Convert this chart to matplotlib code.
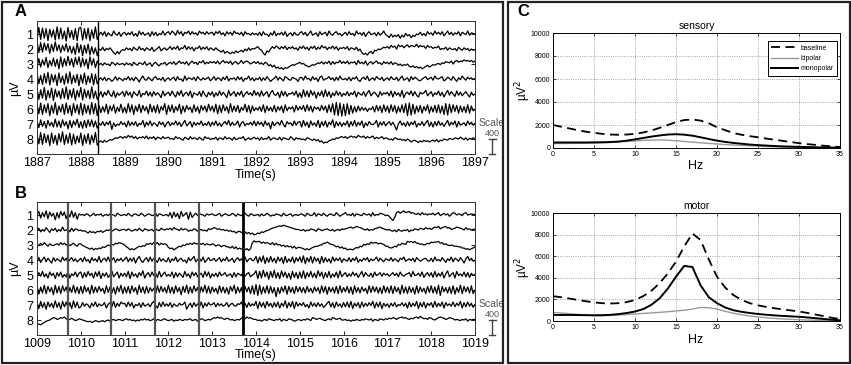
import numpy as np
import matplotlib
matplotlib.use('Agg')
import matplotlib.pyplot as plt
from matplotlib.patches import Rectangle

plt.rcParams['font.family'] = ['Liberation Sans', 'DejaVu Sans']

# ---------------- data ----------------
channel_labels = ['1', '2', '3', '4', '5', '6', '7', '8']

a_range = (1887, 1897)
a_ticks = list(range(1887, 1898))
a_artifacts = [1888.4]

b_range = (1009, 1019)
b_ticks = list(range(1009, 1020))
b_artifacts = [1009.7, 1010.7, 1011.7, 1012.7, 1013.7]

# traces: one letter per sample (24 samples/s), 'm' = channel baseline,
# each letter step = 0.04 channel spacings (channel spacing = 400 uV)
a_ch1 = ("cxdwfvbuhtcyeweraxgsdvbw" "xcvewbtfyd" "lpkqioljrmkpin" "pkolqjnirlpkmoiqkpjnlrko"
         "qlroksmqjpnrlqmokrnplqmo" "pkqnrlojqmpkrnolpjqmnkol" "nkpjqlmiokrjnlpkqimojplk"
         "oqlpjnrkmoiqlnpjrmkoqlnj" "mpkqlnjrmokpinqlmojpknrl" "jgmhkilfkhnjlgkimlpknjqm"
         "okrmplqjnrlpkomqjpnlrkon" "m")
a_ch2 = ("zgxhwkvfuiyjtgsjvhrfqdwg" "tbsfucqeob" "mkpjnlokgdiejl" "kolnjpmkqlnjomkpilnqjmok"
         "nqlpmrkonslqmpjonrlpmqko" "mkoljhkfigehfjgikhmjoknm" "oqmkfcjhmqnrpmqnrlpnqmok"
         "qnrmpkqnrlpmsoqlpnrmqkon" "pmqkonlpjmgdfcgiekjmlnpo" "qnsprmtqsortpsrqupsqrnsp"
         "qnporlnmpkomlnjpmkolnjmk" "l")
a_ch3 = ("fvhtkxgsjwiueyhvjzkvhxly" "hwjueykvgr" "lnkolmjpnkolmn" "kolnjpmkonlqkmoinpljnmpk"
         "npmqlornpmqkornplqosmpnq" "oqnrmpsoqnrlpqmosnqrpmoq" "nqmolpnjlhkfhegdgfhjlkmn"
         "pmnkjhjlkmonqmpnrlqmposn" "qnrmpoqlsnpmrkoqmprnolqn" "pmqlonkmjlkmihjgifhegikh"
         "jlkmnlonqpormqsprqtrsqsp" "r")
a_ch4 = ("wesdvfxcuhtbwgrdvfyesgub" "tfwdrgvcue" "lokpjnmilqkomj" "nlqkojpmhnrlkpmjoqlnkpim"
         "oknpjqlmirkonlpjqmkolnpj" "mqkonjplrjnmokqlpinmrkoj" "nlpjokqmilnrkpmjqolkpnmi"
         "opkrmnjqloiprkmnqlojpkrm" "lnkpjomqkinplrjmokqnlpjm" "okqmlpjnrkmoiqlpnkjmoqln"
         "pkrnmoqjlpnkqmiolrnkpmol" "n")
a_ch5 = ("vdtfxcsgwbuhrevfydtgvcsh" "xcugseyfrd" "jqhpkslirgoknq" "irkpgqmjshnlrjpiqkolgrjn"
         "pjrlhqksinpjrgomkqirlhpk" "qhojrkplgsjnqipkrhmqlojs" "kpirjnqhoslkpgrjqinmpkrh"
         "ogtirhskqfpjrhtiqgojrkpi" "nkqjolrhpmkqiosjnplhqkom" "pjrhqkoisgnplrjqkhpmosjn"
         "qiolrjphnskqmirkpjnqlhpk" "m")
a_ch6 = ("uewdtgvbsfxcrhudwfsbvgtd" "wcufsdxevb" "sgqhuerjtfpiug" "pfvhtdriugsjqeuhrgtfqkvd"
         "sitgqjuerhslpgtiqfskrhuj" "rhuesgtjqfvhrisgpkuhsfrj" "okqitgrjpishqkrgtjpmqhsk"
         "qlsitjrhqmpjskrgthvcxbwa" "ubvdsfqhrjpkoinlqhsjrgti" "rgtisfqhtgvbwcuerhsfqjtf"
         "qhsgtfrdvcugtisfrhqgtfrj" "m")
a_ch7 = ("rgtiqfsjphuhrgtjqesgrkug" "qfsgtithrf" "nkqjplrdoimkql" "ohrjpkqinlshpkrjomiqlphn"
         "qjolrkpinsjmqhpkolrjnkqi" "pkrjoinqlsjpkmrhoqjnlpkr" "jqlpirkoeqjnpkslhqmojrkp"
         "qhsjpgrkoisgqjrhpltgqjpi" "okrhqjsipkrgojqmlnshpkqj" "nqkpjcmrkoiqjplrhnkqjosi"
         "phqjrkoinsjplrhqkmojrlpk" "n")
a_ch8 = ("uexdvgtbwfscvhydtfwcuerg" "wbtfvdsgxc" "hjgkhjlkmonpqn" "qosprnqmpoqnrmpnqlpomqno"
         "pmnlqnomkpnlqmonlpmkqnol" "nmpkonlqmonkplmonqkmolnp" "mokplnmqknomlpkonmlqnkom"
         "nlmkonlkmjlhjfhgjkmlonpq" "oqnprpqosqprnqoprmpnoqmo" "nlmkonlmkljmkhjkigjhkijh"
         "jkilhkjmlknmlonmpnloknmo" "m")

b_ch1 = ("lshqjtgrkpeqhslrgpjtiqfo" "mnlonkmplnmokmnlonmkpnlm" "nlpmknomlpnkmonlmpkonlmn"
         "kqhrjpgsknqfrimplonmkomn" "omlnpkmonlmpnkomlnpmkonl" "mnkolmpnkmlonmkpmlnokmnl"
         "nomkpnlmqkonlpmknomlqnkm" "oqmnlpkonmlpnmokqlnmponl" "mkgdiqsprtqrspqonpmqnomo"
         "npmoqlnpmoknqpmonlpqmnon" "n")
b_ch2 = ("lpjnkqmiolpjnkrlmojpkonl" "mkljhkijhkjlikmlnkmonlmn" "nlomkmnlpmkonlmnkomlpnmo"
         "npmqonlpmonkmlonkmnlmkon" "oqpnomnlmkljkhjkihjgifhe" "fhgjiklmopqrstsutsrqponn"
         "mlnkmlonmkonlmnomlnkmnlo" "nopqrpqsrqpnmolnmopqrpon" "mnlkmjnlkmlnjmlonmponqop"
         "nprqsoqrspqnoprqpomqnomn" "o")
b_ch3 = ("nlpmqnkomlnomqnpmolnpmko" "olkihfhegfhgjikmlnmpoqpo" "mjhegegikjlkonpnqoqmpnon"
         "ighegikjmlonpnqoopnpmonm" "onkmmjlljjhkgjfhfgegdgqt" "rssprpqpnqmpmnkmjljkhkgi"
         "ihgegegijkkmmpprpnnljkhj" "gheffegihkjnmonrpqqoponk" "kihikjnmponsrsqsppnomnpo"
         "rqrrspqnomlmlkkjjhhfgegh" "j")
b_ch4 = ("kqinrjplhqkomjrlpinqkojm" "pjrknhqlojsinpkrjmqiolpk" "nrjpkqhoslinqjrkpmiqkolj"
         "qiolrjnpkmhqlosjnpkrimql" "mpknqjolrkmpinqlokrjnplm" "shrjtgqisjphrkqgsiojrhqk"
         "ritgqjshrkpgsiqjohrkplqi" "omkqjplrinkpmqjolnrkpmjo" "nlqkomjpnrkmolpjqnkmoplk"
         "pjrlnkqmiolrjpnkqmhoslpk" "m")
b_ch5 = ("iqksjohrlpgqkrinjsholrjp" "rhqjslphrksgpkqimtjnrhpk" "pjsgrkoiqlthnqjrlpisjnrk"
         "nkrhqjpmiskohrlqjnpiskrh" "okpjrlnqkmoiqjpnlrkoqjmo" "tgshujrfsiuhqgtjrhpfsiqg"
         "rhtgqjsiphtkrgqishojrhtj" "nqjokrlpinsjqmkpirlnqkpm" "oknqlpjrmknoqjslmpkrinqk"
         "qisjpkrhotjnqhslokrjqipl" "n")
b_ch6 = ("tfrhugsjqeuhsgtkrfqiuhrg" "sgtjqfuhriskpgtirhqfsjug" "rhsgtjqfuirgshqkpgtisjqh"
         "uhrgtjqesiugrhtkqfrjuhsg" "rjpgtirhqfskugriqcsjrgtf" "vdufrhtgshqbqgrjtfsiqgsj"
         "riqhsjphrkqgtisfrjqhsgti" "qjshrftiqhrkpgtisjrhqgti" "rhtgsjqfuhrgsiqfthrjpgsi"
         "thrgudsjqhrgtfqiugsjrhtg" "m")
b_ch7 = ("rgsiqfrjphtiqfsjrhqgtirh" "jqkomhpkrjolmqhnqjsipkro" "pjrkqhnlpiqkmojpslhqjrko"
         "kqiolkpmnrflpiqkojrhpkqm" "nqjplokmqjnplkonrjpiqkol" "sgrjqhskpiqjrhpkthqjsgrk"
         "plqjnhrkpjqkoilpsjqhrkoi" "qjrisgpkqhrjpkqlshqjrgpk" "oipkqjnlqkphrjpksgqjrhpl"
         "qisjpkrhqlokrjplshqjrkpi" "n")
b_ch8 = ("hfegiklmoqpnoqpromnpnlmo" "nmlkjkijlkjkljlmkmnlmnml" "nomnlmkmlnmomnlmoknmlnom"
         "lmnkmlnmlnmnolmnkmonlmnm" "oqprpqonpomnlmnmpqorpqon" "nlmkmnlonmlnmoknmlonmkln"
         "mlnmonlqpnopnmlnomqpnopm" "mnlmkmlnmlnmonmoknmlonmo" "npoqpnpqrpqonpoqrpsqopnq"
         "pnmoqrqpnoqpomnmlnmoknmn" "n")

a_traces = [a_ch1, a_ch2, a_ch3, a_ch4, a_ch5, a_ch6, a_ch7, a_ch8]
b_traces = [b_ch1, b_ch2, b_ch3, b_ch4, b_ch5, b_ch6, b_ch7, b_ch8]
scale_value = '400'

# spectra (uV^2) at 0..35 Hz
freqs = list(range(0, 36))
sens_baseline = [2000, 1850, 1700, 1550, 1420, 1320, 1230, 1170, 1150, 1170, 1230, 1350,
                 1520, 1750, 2000, 2250, 2430, 2480, 2380, 2150, 1800, 1550, 1300, 1150,
                 1030, 930, 820, 720, 620, 520, 420, 340, 270, 200, 140, 90]
sens_bipolar = [380, 390, 400, 410, 420, 430, 450, 480, 520, 570, 620, 660, 690, 700, 680,
                630, 570, 510, 450, 400, 350, 300, 260, 220, 190, 160, 130, 110, 90, 75,
                60, 50, 40, 30, 25, 20]
sens_monopolar = [480, 480, 480, 480, 480, 490, 500, 520, 560, 640, 750, 870, 990, 1090,
                  1170, 1200, 1160, 1070, 930, 780, 640, 530, 440, 370, 300, 250, 210, 170,
                  140, 120, 100, 80, 60, 50, 40, 30]
mot_baseline = [2300, 2200, 2080, 1950, 1830, 1730, 1650, 1620, 1650, 1750, 1950, 2300,
                2800, 3500, 4400, 5500, 6900, 8100, 7500, 5700, 4100, 3100, 2400, 1950,
                1650, 1450, 1300, 1180, 1080, 980, 880, 750, 600, 450, 300, 180]
mot_bipolar = [780, 740, 680, 620, 560, 500, 490, 520, 560, 600, 650, 700, 750, 800, 860,
               930, 1000, 1100, 1250, 1230, 1100, 900, 720, 580, 460, 370, 300, 240, 190,
               150, 120, 90, 70, 50, 40, 30]
mot_monopolar = [560, 560, 560, 550, 540, 530, 540, 570, 640, 740, 880, 1100, 1500, 2100,
                 3000, 4100, 5100, 5000, 3300, 2200, 1650, 1250, 1000, 850, 740, 650, 580,
                 520, 470, 430, 390, 330, 260, 190, 120, 60]
spec_xticks = [0, 5, 10, 15, 20, 25, 30, 35]
spec_yticks = [0, 2000, 4000, 6000, 8000, 10000]

# ---------------- figure ----------------
W, H = 851, 365
fig = plt.figure(figsize=(W / 100, H / 100), dpi=100)


def ax_px(l, t, r, b):
    return fig.add_axes([l / W, 1 - b / H, (r - l) / W, (b - t) / H])


def fx(x):
    return x / W


def fy(y):
    return 1 - y / H


STEP = 0.04


def draw_eeg(ax, trange, traces, ticks, artifacts, art_cols, art_lws):
    t0, t1 = trange
    for k, s in enumerate(traces):
        v = (np.array([ord(c) for c in s]) - ord('m')) * STEP
        t = np.linspace(t0, t1, len(v))
        ax.plot(t, (8 - k) + v, color='black', lw=0.9)
    for a, c, w in zip(artifacts, art_cols, art_lws):
        ax.axvline(a, color=c, lw=w)
    ax.set_xlim(t0, t1)
    ax.set_ylim(0, 8.87)
    ax.set_xticks(ticks)
    ax.set_xticklabels([str(x) for x in ticks])
    ax.set_yticks([8 - k for k in range(8)])
    ax.set_yticklabels(channel_labels)
    ax.tick_params(direction='in', top=True, right=True, length=3, width=0.6,
                   labelsize=9, pad=2.5)
    for sp in ax.spines.values():
        sp.set_linewidth(0.7)
        sp.set_color('#333333')
    # scale bar (400 uV = one channel spacing)
    xs = t1 + 0.39
    ax.plot([xs, xs], [0, 1], color='#444444', lw=1.0, clip_on=False)
    ax.plot([xs - 0.08, xs + 0.08], [1, 1], color='#444444', lw=1.0, clip_on=False)
    ax.plot([xs - 0.06, xs + 0.06], [0, 0], color='#444444', lw=1.0, clip_on=False)
    ax.text(xs, 2.08, 'Scale', ha='center', va='center', fontsize=7.5, color='#555555',
            clip_on=False)
    ax.text(xs, 1.4, scale_value, ha='center', va='center', fontsize=6.5, color='#555555',
            clip_on=False)


axA = ax_px(37, 21, 475, 154)
draw_eeg(axA, a_range, a_traces, a_ticks, a_artifacts, ['black'], [1.0])
axB = ax_px(37, 202, 475, 335)
draw_eeg(axB, b_range, b_traces, b_ticks, b_artifacts,
         ['#555555', '#555555', '#555555', '#555555', 'black'], [1.6, 1.6, 1.6, 1.6, 2.0])

fig.text(fx(15), fy(88), 'µV', rotation=90, ha='center', va='center', fontsize=9)
fig.text(fx(15), fy(268), 'µV', rotation=90, ha='center', va='center', fontsize=9)
fig.text(fx(256), fy(175), 'Time(s)', ha='center', va='center', fontsize=9)
fig.text(fx(256), fy(355), 'Time(s)', ha='center', va='center', fontsize=9)


def draw_spec(ax, title, base, bip, mono, legend=False):
    ax.plot(freqs, base, color='black', lw=1.3, ls=(0, (5, 3)), label='baseline')
    ax.plot(freqs, bip, color='#999999', lw=1.0, label='bipolar')
    ax.plot(freqs, mono, color='black', lw=1.4, label='monopolar')
    ax.set_xlim(0, 35)
    ax.set_ylim(0, 10000)
    ax.set_xticks(spec_xticks)
    ax.set_yticks(spec_yticks)
    ax.grid(True, ls=':', color='#888888', lw=0.6)
    ax.tick_params(direction='in', top=True, right=True, length=2, width=0.5,
                   labelsize=5, pad=2)
    for sp in ax.spines.values():
        sp.set_linewidth(0.7)
    ax.set_title(title, fontsize=7.5, pad=3)
    if legend:
        leg = ax.legend(loc='upper right', bbox_to_anchor=(0.99, 0.93), borderaxespad=0,
                        fontsize=5, handlelength=3.8, frameon=True, fancybox=False,
                        edgecolor='black', framealpha=1, borderpad=0.5, labelspacing=0.5,
                        handletextpad=0.4)
        leg.get_frame().set_linewidth(0.7)


axS = ax_px(553, 33, 840, 148)
draw_spec(axS, 'sensory', sens_baseline, sens_bipolar, sens_monopolar, legend=True)
axM = ax_px(553, 213, 840, 321)
draw_spec(axM, 'motor', mot_baseline, mot_bipolar, mot_monopolar)

fig.text(fx(523), fy(90), 'µV$^2$', rotation=90, ha='center', va='center', fontsize=8.5)
fig.text(fx(523), fy(267), 'µV$^2$', rotation=90, ha='center', va='center', fontsize=8.5)
fig.text(fx(696), fy(166), 'Hz', ha='center', va='center', fontsize=9)
fig.text(fx(696), fy(340), 'Hz', ha='center', va='center', fontsize=9)

# panel letters
fig.text(fx(15), fy(11), 'A', ha='left', va='center', fontsize=12, fontweight='bold')
fig.text(fx(15), fy(193), 'B', ha='left', va='center', fontsize=12, fontweight='bold')
fig.text(fx(517), fy(11), 'C', ha='left', va='center', fontsize=12, fontweight='bold')

# panel frames
for (l, t, r, b) in [(1.5, 1.5, 503, 363), (508, 1.5, 849.5, 363)]:
    fig.patches.append(Rectangle((fx(l), fy(b)), fx(r - l), (b - t) / H, fill=False,
                                 edgecolor='#222222', lw=1.6, transform=fig.transFigure))

fig.savefig('out.png', dpi=100)
